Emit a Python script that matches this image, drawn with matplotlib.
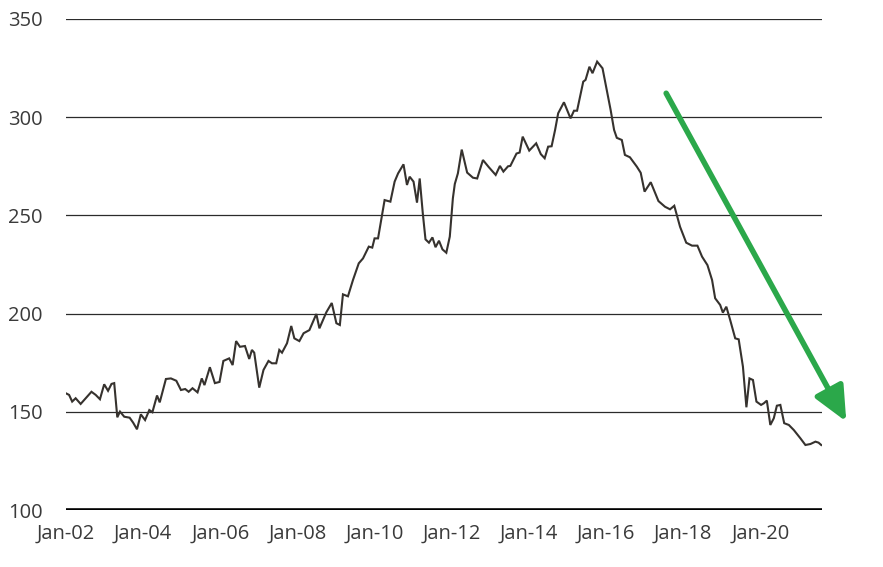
import matplotlib
matplotlib.use("Agg")
import matplotlib.pyplot as plt

# Decimal-year positions and index values
years = [2002.00, 2002.08, 2002.16, 2002.25, 2002.38, 2002.51, 2002.66, 2002.77, 2002.88, 2002.99,
         2003.09, 2003.18, 2003.25, 2003.33, 2003.40, 2003.51, 2003.65, 2003.74, 2003.84, 2003.94,
         2004.05, 2004.16, 2004.24, 2004.36, 2004.43, 2004.59, 2004.72, 2004.86, 2004.98,
         2005.09, 2005.18, 2005.28, 2005.41, 2005.52, 2005.59, 2005.73, 2005.86, 2005.98,
         2006.08, 2006.23, 2006.32, 2006.41, 2006.51, 2006.64, 2006.75, 2006.82, 2006.88,
         2007.01, 2007.12, 2007.25, 2007.34, 2007.45, 2007.53, 2007.60, 2007.73, 2007.84, 2007.92,
         2008.05, 2008.16, 2008.31, 2008.49, 2008.57, 2008.75, 2008.89,
         2009.01, 2009.10, 2009.18, 2009.31, 2009.44, 2009.59, 2009.70, 2009.85, 2009.94,
         2010.00, 2010.09, 2010.26, 2010.41, 2010.52, 2010.61, 2010.75, 2010.84, 2010.91,
         2011.01, 2011.10, 2011.17, 2011.25, 2011.32, 2011.41, 2011.50, 2011.58, 2011.67, 2011.76, 2011.86, 2011.95,
         2012.03, 2012.08, 2012.16, 2012.26, 2012.40, 2012.55, 2012.66, 2012.81, 2012.96,
         2013.14, 2013.25, 2013.34, 2013.46, 2013.52, 2013.68, 2013.76, 2013.84,
         2014.01, 2014.19, 2014.31, 2014.41, 2014.50, 2014.59, 2014.68, 2014.76, 2014.91,
         2015.08, 2015.17, 2015.25, 2015.41, 2015.47, 2015.57, 2015.65, 2015.77, 2015.91,
         2016.02, 2016.12, 2016.21, 2016.28, 2016.41, 2016.49, 2016.62, 2016.80, 2016.90,
         2017.00, 2017.16, 2017.36, 2017.53, 2017.66, 2017.77, 2017.92,
         2018.08, 2018.23, 2018.37, 2018.49, 2018.63, 2018.75, 2018.83, 2018.96,
         2019.03, 2019.12, 2019.22, 2019.35, 2019.44, 2019.55, 2019.64, 2019.72, 2019.81, 2019.90,
         2020.02, 2020.09, 2020.17, 2020.26, 2020.35, 2020.43, 2020.52, 2020.62, 2020.74, 2020.87,
         2021.04, 2021.17, 2021.30, 2021.43, 2021.51, 2021.58]

values = [159.4, 158.6, 155.2, 156.9, 154.0, 156.9, 160.2, 158.6, 156.4, 164.0,
          160.7, 164.2, 164.6, 147.2, 150.1, 147.5, 147.0, 144.5, 141.1, 148.7,
          145.8, 150.9, 149.8, 158.3, 154.8, 166.7, 167.0, 165.8, 161.1,
          161.6, 160.2, 162.0, 159.9, 167.0, 163.6, 172.7, 164.6, 165.2,
          175.9, 177.2, 173.8, 186.0, 183.1, 183.5, 176.9, 181.5, 180.1,
          162.3, 171.3, 175.9, 174.7, 174.7, 181.5, 180.1, 184.9, 193.7, 187.4,
          186.0, 190.0, 191.6, 199.8, 192.5, 200.7, 205.4,
          195.1, 194.2, 209.8, 208.8, 217.1, 225.6, 228.1, 234.1, 233.6,
          238.3, 238.3, 257.8, 257.0, 267.2, 271.4, 276.0, 265.5, 269.7,
          267.2, 256.5, 268.8, 251.1, 237.8, 236.1, 238.8, 233.8, 237.1, 232.7, 231.0, 239.2,
          258.7, 266.0, 271.4, 283.5, 271.8, 269.2, 268.8, 278.2, 274.6,
          270.6, 275.2, 272.3, 275.0, 275.2, 281.5, 282.0, 290.1,
          283.0, 286.7, 281.2, 279.1, 285.0, 285.2, 293.5, 302.0, 307.6,
          299.4, 303.3, 303.3, 318.1, 319.0, 325.7, 322.4, 328.3, 324.9,
          313.9, 303.7, 293.5, 289.5, 288.4, 280.8, 279.6, 274.8, 271.7,
          262.1, 266.9, 257.3, 254.4, 253.1, 254.9, 244.2,
          236.1, 234.6, 234.6, 229.0, 224.7, 217.1, 207.8, 204.4,
          200.5, 203.5, 196.7, 187.4, 186.9, 173.0, 152.3, 167.0, 166.2, 155.2,
          153.5, 154.3, 155.7, 143.3, 146.7, 153.1, 153.5, 144.2, 143.3, 140.7,
          136.5, 133.1, 133.6, 134.8, 134.3, 133.1]

tick_years = [2002, 2004, 2006, 2008, 2010, 2012, 2014, 2016, 2018, 2020]
tick_labels = ["Jan-02", "Jan-04", "Jan-06", "Jan-08", "Jan-10",
               "Jan-12", "Jan-14", "Jan-16", "Jan-18", "Jan-20"]
y_ticks = [100, 150, 200, 250, 300, 350]

plt.rcParams['font.family'] = ['Open Sans', 'DejaVu Sans']

fig = plt.figure(figsize=(8.83, 5.67), dpi=100)
ax = fig.add_axes([66 / 883, (567 - 510) / 567, (822 - 66) / 883, 491 / 567])

for yv in y_ticks[1:]:
    ax.axhline(yv, color="#2b2b2b", lw=0.9, zorder=1)
ax.axhline(100, color="#000000", lw=2.6, zorder=3)

ax.plot(years, values, color="#36322e", lw=1.5, zorder=2, solid_joinstyle="miter")

ax.set_xlim(2002, 2021.6)
ax.set_ylim(100, 350)
ax.set_xticks(tick_years)
ax.set_xticklabels(tick_labels)
ax.set_yticks(y_ticks)
ax.tick_params(axis="both", length=0, labelsize=14.5, colors="#3a3a3a")
ax.tick_params(axis="y", pad=17)
ax.tick_params(axis="x", pad=10)
for s in ax.spines.values():
    s.set_visible(False)

ax.annotate("", xy=(2022.23, 145.0), xytext=(2017.56, 312.2),
            xycoords="data", textcoords="data", annotation_clip=False,
            arrowprops=dict(arrowstyle="-|>,head_length=0.7,head_width=0.32",
                            color="#2ba84a", lw=4, mutation_scale=30,
                            shrinkA=0, shrinkB=0, capstyle="round"))

fig.savefig("out.png", dpi=100)
